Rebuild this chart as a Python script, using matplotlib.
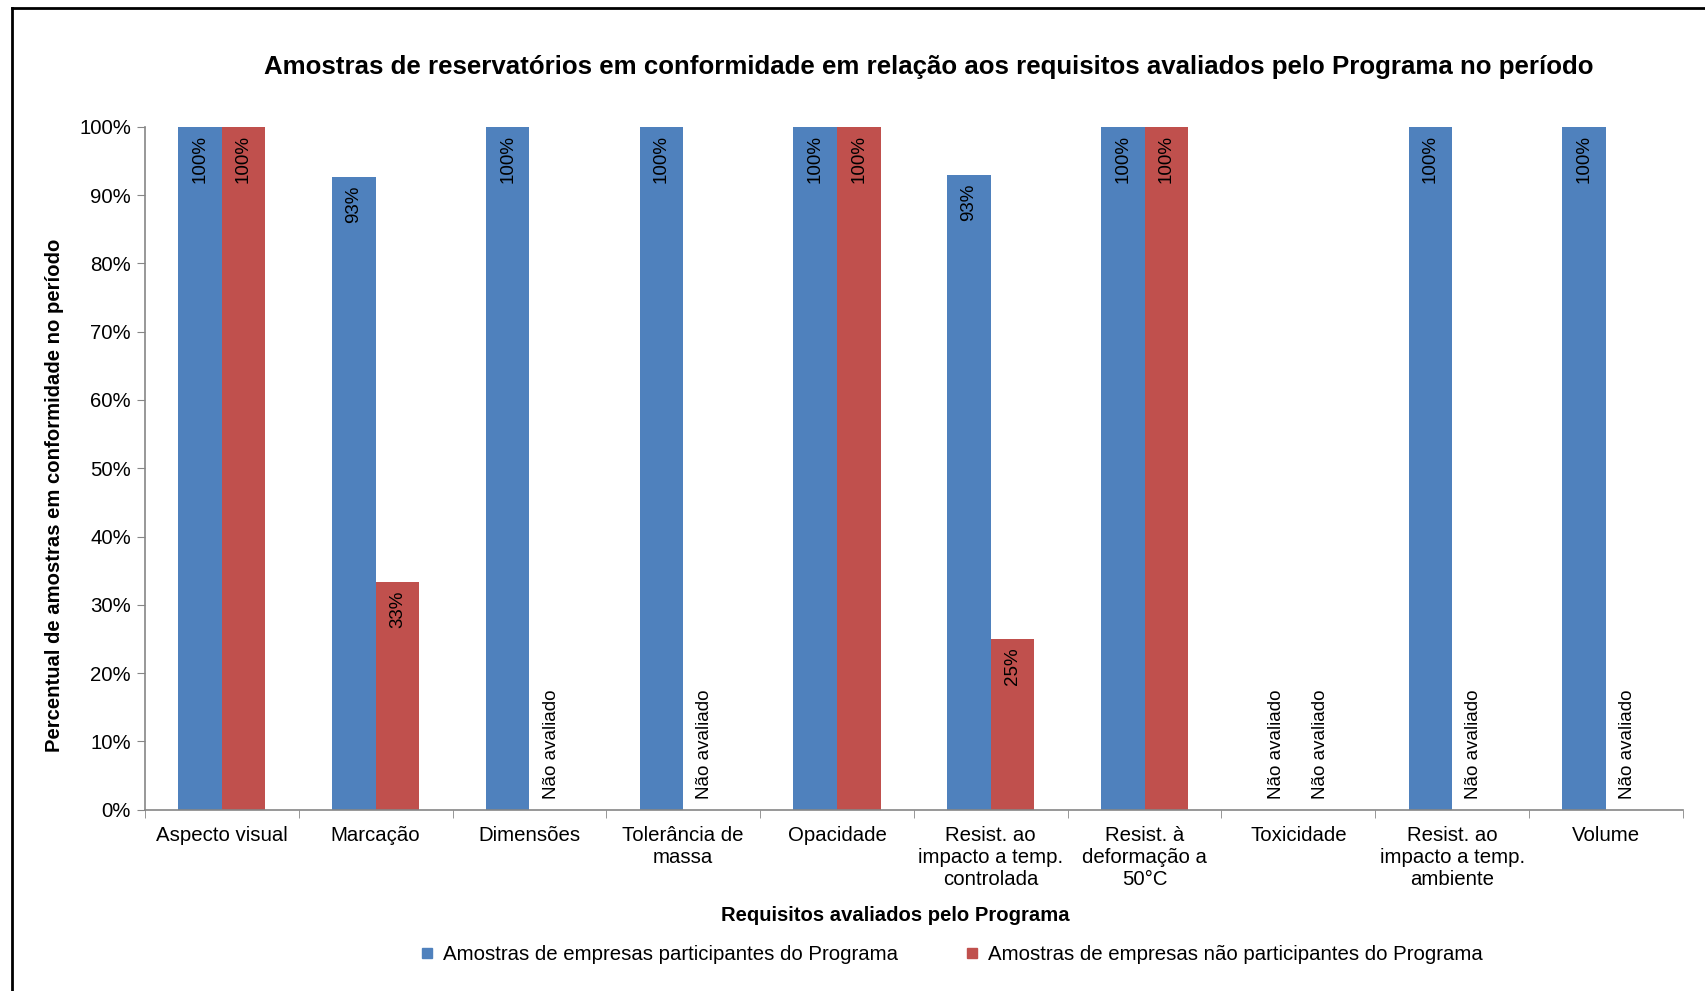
import numpy as np
import matplotlib
matplotlib.use('Agg')
import matplotlib.pyplot as plt
from matplotlib.lines import Line2D
from matplotlib.ticker import FuncFormatter

plt.rcParams['font.family'] = ['Liberation Sans', 'DejaVu Sans']

categories = ['Aspecto visual', 'Marcação', 'Dimensões', 'Tolerância de\nmassa', 'Opacidade',
              'Resist. ao\nimpacto a temp.\ncontrolada', 'Resist. à\ndeformação a\n50°C',
              'Toxicidade', 'Resist. ao\nimpacto a temp.\nambiente', 'Volume']
# None = "Não avaliado"
participantes = [100, 92.6, 100, 100, 100, 92.9, 100, None, 100, 100]
nao_participantes = [100, 33.3, None, None, 100, 25, 100, None, None, None]
series_names = ['Amostras de empresas participantes do Programa',
                'Amostras de empresas não participantes do Programa']
colors = ['#4F81BD', '#C0504D']

fig = plt.figure(figsize=(17.05, 9.91), dpi=100)
ax = fig.add_axes([0.085, 0.183, 0.902, 0.689])

x = np.arange(len(categories))
w = 0.283
for k, (vals, col, name) in enumerate(zip([participantes, nao_participantes], colors, series_names)):
    pos = x + (k - 0.5) * w
    h = [v if v is not None else 0 for v in vals]
    ax.bar(pos, h, width=w, color=col, label=name, zorder=2)
    for p, v in zip(pos, vals):
        if v is None:
            ax.text(p, 1.6, 'Não avaliado', rotation=90, ha='center', va='bottom', fontsize=13.5, color='black')
        else:
            ax.text(p, v - 1.2, '%d%%' % round(v), rotation=90, ha='center', va='top', fontsize=13.5, color='black')

ax.set_xlim(-0.5, len(categories) - 0.5)
ax.set_ylim(0, 100)
ax.set_yticks(np.arange(0, 101, 10))
ax.yaxis.set_major_formatter(FuncFormatter(lambda v, _: '%d%%' % v))
ax.set_xticks(x)
ax.set_xticklabels(categories, fontsize=14.7, linespacing=1.2)
ax.set_xticks(np.arange(-0.5, len(categories)), minor=True)
ax.tick_params(axis='x', which='major', length=0, pad=12)
ax.tick_params(axis='x', which='minor', length=6, color='#868686', direction='out')
ax.tick_params(axis='y', labelsize=14.7, length=6, color='#868686', pad=4)
for s in ['top', 'right']:
    ax.spines[s].set_visible(False)
for s in ['left', 'bottom']:
    ax.spines[s].set_color('#868686')
    ax.spines[s].set_linewidth(1.2)

fig.text(0.545, 0.932, 'Amostras de reservatórios em conformidade em relação aos requisitos avaliados pelo Programa no período',
         ha='center', va='center', fontsize=18.6, fontweight='bold')
fig.text(0.032, 0.50, 'Percentual de amostras em conformidade no período', rotation=90,
         ha='center', va='center', fontsize=14.6, fontweight='bold')
fig.text(0.525, 0.076, 'Requisitos avaliados pelo Programa', ha='center', va='center',
         fontsize=14.6, fontweight='bold')

handles = [Line2D([], [], marker='s', linestyle='none', markersize=7, color=c) for c in colors]
fig.legend(handles, series_names, loc='center', bbox_to_anchor=(0.554, 0.037), ncol=2, frameon=False,
           fontsize=14.7, handletextpad=-0.2, columnspacing=2.6)

# chart frame (left and top edges visible)
fig.add_artist(Line2D([0.007, 0.007], [0, 0.992], transform=fig.transFigure, color='black', linewidth=2))
fig.add_artist(Line2D([0.007, 1.0], [0.992, 0.992], transform=fig.transFigure, color='black', linewidth=2))

fig.savefig('out.png', dpi=100)
